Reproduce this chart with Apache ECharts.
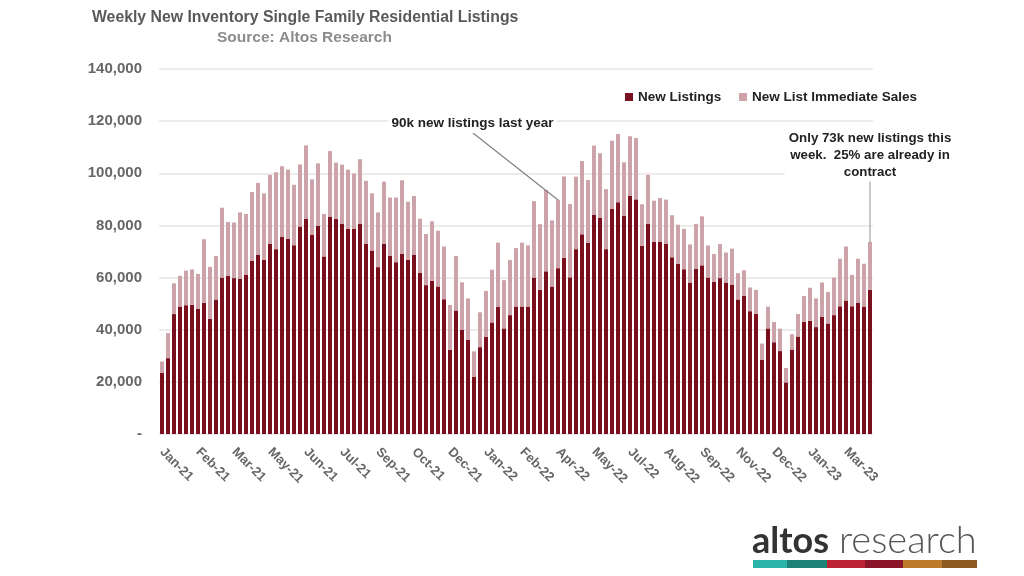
<!DOCTYPE html>
<html lang="en">

<head>
    <meta charset="UTF-8">
    <title>Weekly New Inventory Single Family Residential Listings</title>
    <script src="https://cdn.jsdelivr.net/npm/echarts@6/dist/echarts.min.js"></script>
    <style>
        html, body { margin: 0; padding: 0; background: #fff; }
        #main { width: 1024px; height: 576px; }
    </style>
</head>

<body>
    <div id="main"></div>

    <script type="text/javascript">
        // one label every 6 weeks
        var tickLabels = ['Jan-21', 'Feb-21', 'Mar-21', 'May-21', 'Jun-21', 'Jul-21', 'Sep-21', 'Oct-21', 'Dec-21', 'Jan-22',
            'Feb-22', 'Apr-22', 'May-22', 'Jul-22', 'Aug-22', 'Sep-22', 'Nov-22', 'Dec-22', 'Jan-23', 'Mar-23'];

        // weekly values
        var newListings = [
            23400, 29100, 46000, 48900, 49400, 49500, 48100, 50300, 44200, 51600,
            60000, 60700, 59800, 59600, 61000, 66500, 68800, 66800, 72900, 70900,
            75700, 74800, 72400, 79600, 82600, 76500, 79900, 68100, 83400, 82500,
            80700, 78800, 78800, 80600, 73000, 70400, 64000, 72900, 68400, 65900,
            69200, 66800, 68800, 61900, 57100, 58700, 56600, 51700, 32300, 47400,
            40000, 36100, 22000, 33300, 37200, 42800, 48700, 40500, 45600, 48900,
            48900, 48900, 60000, 55300, 62400, 56600, 63600, 67600, 60100, 70900,
            76600, 73400, 84000, 82900, 70900, 86300, 88900, 83800, 91300, 90000,
            72200, 80700, 73700, 73800, 73000, 67800, 65300, 63200, 58100, 63300,
            64700, 60000, 58400, 59800, 58100, 57300, 51600, 53000, 47100, 46100,
            28500, 40500, 35200, 31800, 19800, 32400, 37400, 43000, 43400, 41000,
            45000, 42400, 45600, 49000, 51200, 49000, 50400, 48900, 55300
        ];
        var totalListings = [
            27800, 38700, 57800, 60700, 62700, 63100, 61400, 74700, 64100, 68300,
            86800, 81300, 81100, 85000, 84400, 92800, 96300, 92300, 99400, 100400,
            102700, 101400, 95600, 103400, 110700, 97700, 103800, 84400, 108500, 104100,
            103300, 101400, 99900, 105400, 97100, 92300, 85000, 96800, 90700, 90700,
            97300, 89100, 91300, 82600, 76700, 81600, 78000, 71900, 49500, 68300,
            58200, 52000, 31700, 46700, 54900, 63000, 73400, 59000, 66700, 71300,
            73400, 72400, 89300, 80500, 93600, 81900, 89800, 98800, 88200, 98700,
            104700, 97400, 110600, 107700, 93900, 112500, 115100, 104200, 114200, 113500,
            88100, 99400, 89500, 90500, 89900, 83900, 80300, 78700, 72700, 80600,
            83500, 72300, 69000, 72900, 69600, 71100, 61700, 62800, 56200, 55300,
            34700, 48800, 43000, 40400, 25300, 38300, 46000, 52900, 56100, 52000,
            58100, 54500, 60000, 67200, 71900, 61000, 67200, 65300, 73700
        ];

        var immediateSales = totalListings.map(function (value, index) {
            return value - newListings[index];
        });
        var categories = newListings.map(function (value, index) {
            return index % 6 == 0 ? tickLabels[index / 6] : '';
        });

        var logoColors = ['#2bb5a8', '#1f8278', '#bb2233', '#8a1428', '#bd7a28', '#8c5a22'];
        var logoEdges = [753, 787, 827, 865, 903, 942, 977];
        var logoStripes = logoColors.map(function (color, index) {
            return {
                type: 'rect',
                shape: { x: logoEdges[index], y: 560, width: logoEdges[index + 1] - logoEdges[index], height: 8 },
                style: { fill: color }
            };
        });

        var baseFont = '"Liberation Sans", Arial, sans-serif';

        var option = {
            animation: false,
            textStyle: { fontFamily: baseFont },
            title: [
                { text: 'Weekly New Inventory Single Family Residential Listings', left: 87, top: 5, textStyle: { fontSize: 15.8, fontWeight: 'bold', color: '#595959', fontFamily: baseFont } },
                { text: 'Source: Altos Research', left: 212, top: 25, textStyle: { fontSize: 15.5, fontWeight: 'bold', color: '#8c8c8c', fontFamily: baseFont } }
            ],
            // two legends so each entry can sit where the original has it
            legend: [
                {
                    left: 620, top: 85, itemWidth: 8, itemHeight: 8, icon: 'rect',
                    textStyle: { fontSize: 13.5, fontWeight: 'bold', color: '#222', fontFamily: baseFont, width: 80, overflow: 'none' },
                    data: ['New Listings']
                },
                {
                    left: 734, top: 85, itemWidth: 8, itemHeight: 8, icon: 'rect',
                    textStyle: { fontSize: 13.5, fontWeight: 'bold', color: '#222', fontFamily: baseFont },
                    data: ['New List Immediate Sales']
                }
            ],
            grid: { left: 159, right: 151, top: 69, bottom: 142 },
            xAxis: {
                type: 'category',
                data: categories,
                axisLine: { show: false },
                axisTick: { show: false },
                axisLabel: {
                    interval: 5,
                    rotate: -45,
                    margin: 16,
                    fontSize: 13,
                    fontWeight: 'bold',
                    color: '#666',
                    fontFamily: baseFont
                }
            },
            yAxis: {
                type: 'value',
                min: 0,
                max: 140000,
                interval: 20000,
                axisLine: { show: false },
                axisTick: { show: false },
                splitLine: { lineStyle: { color: '#e8e4e4', width: 1.5 } },
                axisLabel: {
                    margin: 17,
                    padding: [2, 0, 0, 0],
                    fontSize: 15,
                    fontWeight: 'bold',
                    color: '#666',
                    fontFamily: baseFont,
                    formatter: function (value) {
                        return value == 0 ? '-' : value.toLocaleString('en-US');
                    }
                }
            },
            series: [
                { name: 'New Listings', type: 'bar', stack: 'listings', barWidth: 4, itemStyle: { color: '#7a0f1e' }, data: newListings },
                { name: 'New List Immediate Sales', type: 'bar', stack: 'listings', barWidth: 4, itemStyle: { color: '#cca3a9' }, data: immediateSales }
            ],
            graphic: [
                // leader lines
                { type: 'line', z: 10, shape: { x1: 473, y1: 133, x2: 558, y2: 200 }, style: { stroke: '#808080', lineWidth: 1.2 } },
                { type: 'line', z: 10, shape: { x1: 870, y1: 180, x2: 870, y2: 242 }, style: { stroke: '#a6a6a6', lineWidth: 1.2 } },
                // annotations
                {
                    type: 'text', z: 11, x: 472.5, y: 123,
                    style: {
                        text: '90k new listings last year', align: 'center', verticalAlign: 'middle',
                        font: 'bold 13.5px ' + baseFont, fill: '#222', backgroundColor: '#fff', padding: [3, 3]
                    }
                },
                {
                    type: 'text', z: 11, x: 870, y: 155,
                    style: {
                        text: 'Only 73k new listings this\nweek.  25% are already in\ncontract', align: 'center', verticalAlign: 'middle',
                        font: 'bold 13.3px ' + baseFont, lineHeight: 17, fill: '#222', backgroundColor: '#fff', padding: [1, 4]
                    }
                },
                // logo
                { type: 'text', x: 752, y: 559, style: { text: 'altos', verticalAlign: 'bottom', font: 'bold 36px Lato, ' + baseFont, fill: '#333' } },
                { type: 'text', x: 839, y: 560, style: { text: 'research', verticalAlign: 'bottom', font: '300 38px Lato, ' + baseFont, fill: '#555' } }
            ].concat(logoStripes)
        };

        var myChart = echarts.init(document.getElementById('main'));
        myChart.setOption(option);
    </script>
</body>

</html>
